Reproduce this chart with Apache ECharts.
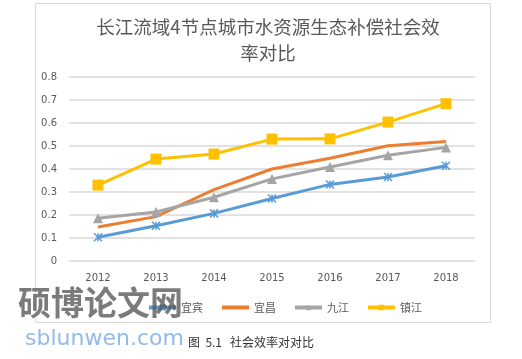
<!DOCTYPE html>
<html><head><meta charset="utf-8">
<script src="https://cdn.jsdelivr.net/npm/echarts@6/dist/echarts.min.js"></script>
<style>html,body{margin:0;padding:0;background:#fff}#c{width:522px;height:359px}</style>
</head><body><div id="c"></div>
<script>
var years = ['2012','2013','2014','2015','2016','2017','2018'];
var yibin = [0.103,0.153,0.207,0.272,0.333,0.365,0.414];
var yichang = [0.148,0.193,0.31,0.40,0.447,0.501,0.52];
var jiujiang = [0.186,0.213,0.277,0.357,0.409,0.46,0.494];
var zhenjiang = [0.33,0.443,0.465,0.53,0.531,0.604,0.684];
var seriesNames = ['宜宾','宜昌','九江','镇江'];
var yTicks = [0,0.1,0.2,0.3,0.4,0.5,0.6,0.7,0.8];

var chart = echarts.init(document.getElementById('c'));
var star = 'path://M0,0L10,10M10,0L0,10M5,0L5,10';
chart.setOption({
  animation:false,
  title:{text:'长江流域4节点城市水资源生态补偿社会效\n率对比', left:263, textAlign:'center', top:9,
    textStyle:{fontFamily:'Noto Sans CJK SC', fontWeight:'normal', fontSize:18.5, color:'#595959', lineHeight:26}},
  grid:{left:69, right:47, top:77, bottom:98},
  xAxis:{type:'category', data:years, boundaryGap:true,
    axisLine:{show:false}, axisTick:{show:false},
    axisLabel:{color:'#595959', fontSize:10, margin:12, fontFamily:'DejaVu Sans'}},
  yAxis:{type:'value', min:0, max:0.8, interval:0.1,
    axisLabel:{color:'#595959', fontSize:10, margin:12, fontFamily:'DejaVu Sans', formatter:function(v){return String(+v.toFixed(1));}},
    splitLine:{lineStyle:{color:'#d9d9d9', width:1.5}}},
  legend:{data:[seriesNames[0], {name:seriesNames[1], itemStyle:{opacity:0}}, seriesNames[2], seriesNames[3]],
    left:142, top:297, itemWidth:27, itemHeight:7, itemGap:17,
    lineStyle:{width:4},
    textStyle:{color:'#595959', fontSize:11, fontFamily:'Noto Sans CJK SC'}},
  series:[
    {name:seriesNames[0], type:'line', data:yibin, symbol:star, symbolSize:8,
      lineStyle:{color:'#5B9BD5', width:3}, itemStyle:{color:'#5B9BD5', borderColor:'#5B9BD5', borderWidth:1.5}},
    {name:seriesNames[1], type:'line', data:yichang, symbol:'none',
      lineStyle:{color:'#ED7D31', width:3}, itemStyle:{color:'#ED7D31'}},
    {name:seriesNames[2], type:'line', data:jiujiang, symbol:'triangle', symbolSize:10,
      lineStyle:{color:'#A5A5A5', width:3}, itemStyle:{color:'#A5A5A5'}},
    {name:seriesNames[3], type:'line', data:zhenjiang, symbol:'rect', symbolSize:11,
      lineStyle:{color:'#FFC000', width:3}, itemStyle:{color:'#FFC000'}}
  ],
  graphic:[
    {type:'rect', shape:{x:35.5, y:3.5, width:455, height:319}, style:{fill:'none', stroke:'#d9d9d9', lineWidth:1}, z:-1},
    {type:'text', left:18, top:286, style:{text:'硕博论文网', font:'bold 33px "Noto Sans CJK SC"', fill:'rgba(90,90,90,0.8)'}, z:100},
    {type:'text', left:25, top:328, style:{text:'sblunwen.com', font:'22px "DejaVu Sans"', fill:'rgba(120,170,225,0.8)'}, z:100},
    {type:'text', left:188, top:336, style:{text:'图  5.1   社会效率对对比', font:'12px "Noto Sans CJK SC"', fill:'#333'}}
  ]
});
</script></body></html>
